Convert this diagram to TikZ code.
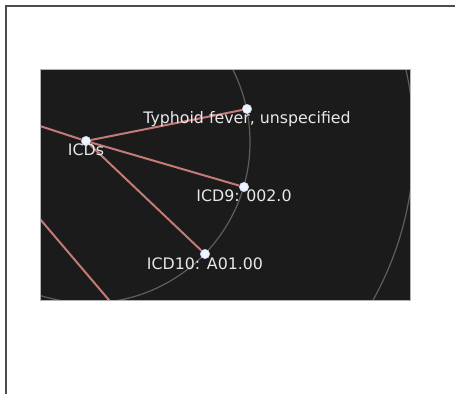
\documentclass[tikz,border=0pt]{standalone}
\usepackage{fontspec}
\setmainfont{DejaVu Sans}

\definecolor{panel}{HTML}{1B1B1B}
\definecolor{orbitgray}{HTML}{5E5E5E}
\definecolor{linkred}{HTML}{C47A76}
\definecolor{dotfill}{HTML}{EEF4FD}
\definecolor{tagtext}{HTML}{E8E8E8}

\begin{document}
\begin{tikzpicture}[x=1pt, y=-1pt,
    leaf/.style={circle, fill=dotfill, draw=dotfill!85!blue, line width=0.4pt,
                 inner sep=0pt, minimum size=9.5pt},
    tag/.style={text=tagtext, font=\fontsize{15.8}{18}\selectfont,
                inner sep=0pt, anchor=base},
    branch/.style={draw=linkred, line width=2pt},
    orbit/.style={draw=orbitgray, line width=1.2pt}]
  \useasboundingbox (0,0) rectangle (455,394);

  % page frame, open at right and bottom
  \draw[line width=1.8pt, black!70] (455,6) -- (6,6) -- (6,394);

  % dark panel
  \fill[panel] (40,69) rectangle (410,300);
  \begin{scope}
    \clip (40,69) rectangle (410,300);
    \coordinate (hub) at (89,142);
      \draw[orbit] (hub) circle[radius=161pt];
      \draw[orbit] (hub) circle[radius=325pt];

    \node[leaf] (icds) at (86,141) {};
    \node[leaf] (typh) at (247,109) {};
    \node[leaf] (icd9) at (244,187) {};
    \node[leaf] (icd10) at (205,254) {};

    \coordinate (up) at (0,113);
    \coordinate (sibA) at (20,195.5);
    \coordinate (sibB) at (120,313);

    \draw[branch] (up) -- (icds);
    \draw[branch] (sibA) -- (sibB);
    \draw[branch] (icds) -- (typh);
    \draw[branch] (icds) -- (icd9);
    \draw[branch] (icds) -- (icd10);
  \end{scope}
  \draw[black!30, line width=0.8pt] (40,69) rectangle (410,300);

  \node[tag] (icdsL) at ([yshift=-14.5pt]icds.center) {ICDs};
  \node[tag] (typhL) at ([yshift=-14pt]typh.center) {Typhoid fever, unspecified};
  \node[tag] (icd9L) at ([yshift=-14.5pt]icd9.center) {ICD9: 002.0};
  \node[tag] (icd10L) at ([yshift=-15pt]icd10.center) {ICD10: A01.00};

\end{tikzpicture}
\end{document}
